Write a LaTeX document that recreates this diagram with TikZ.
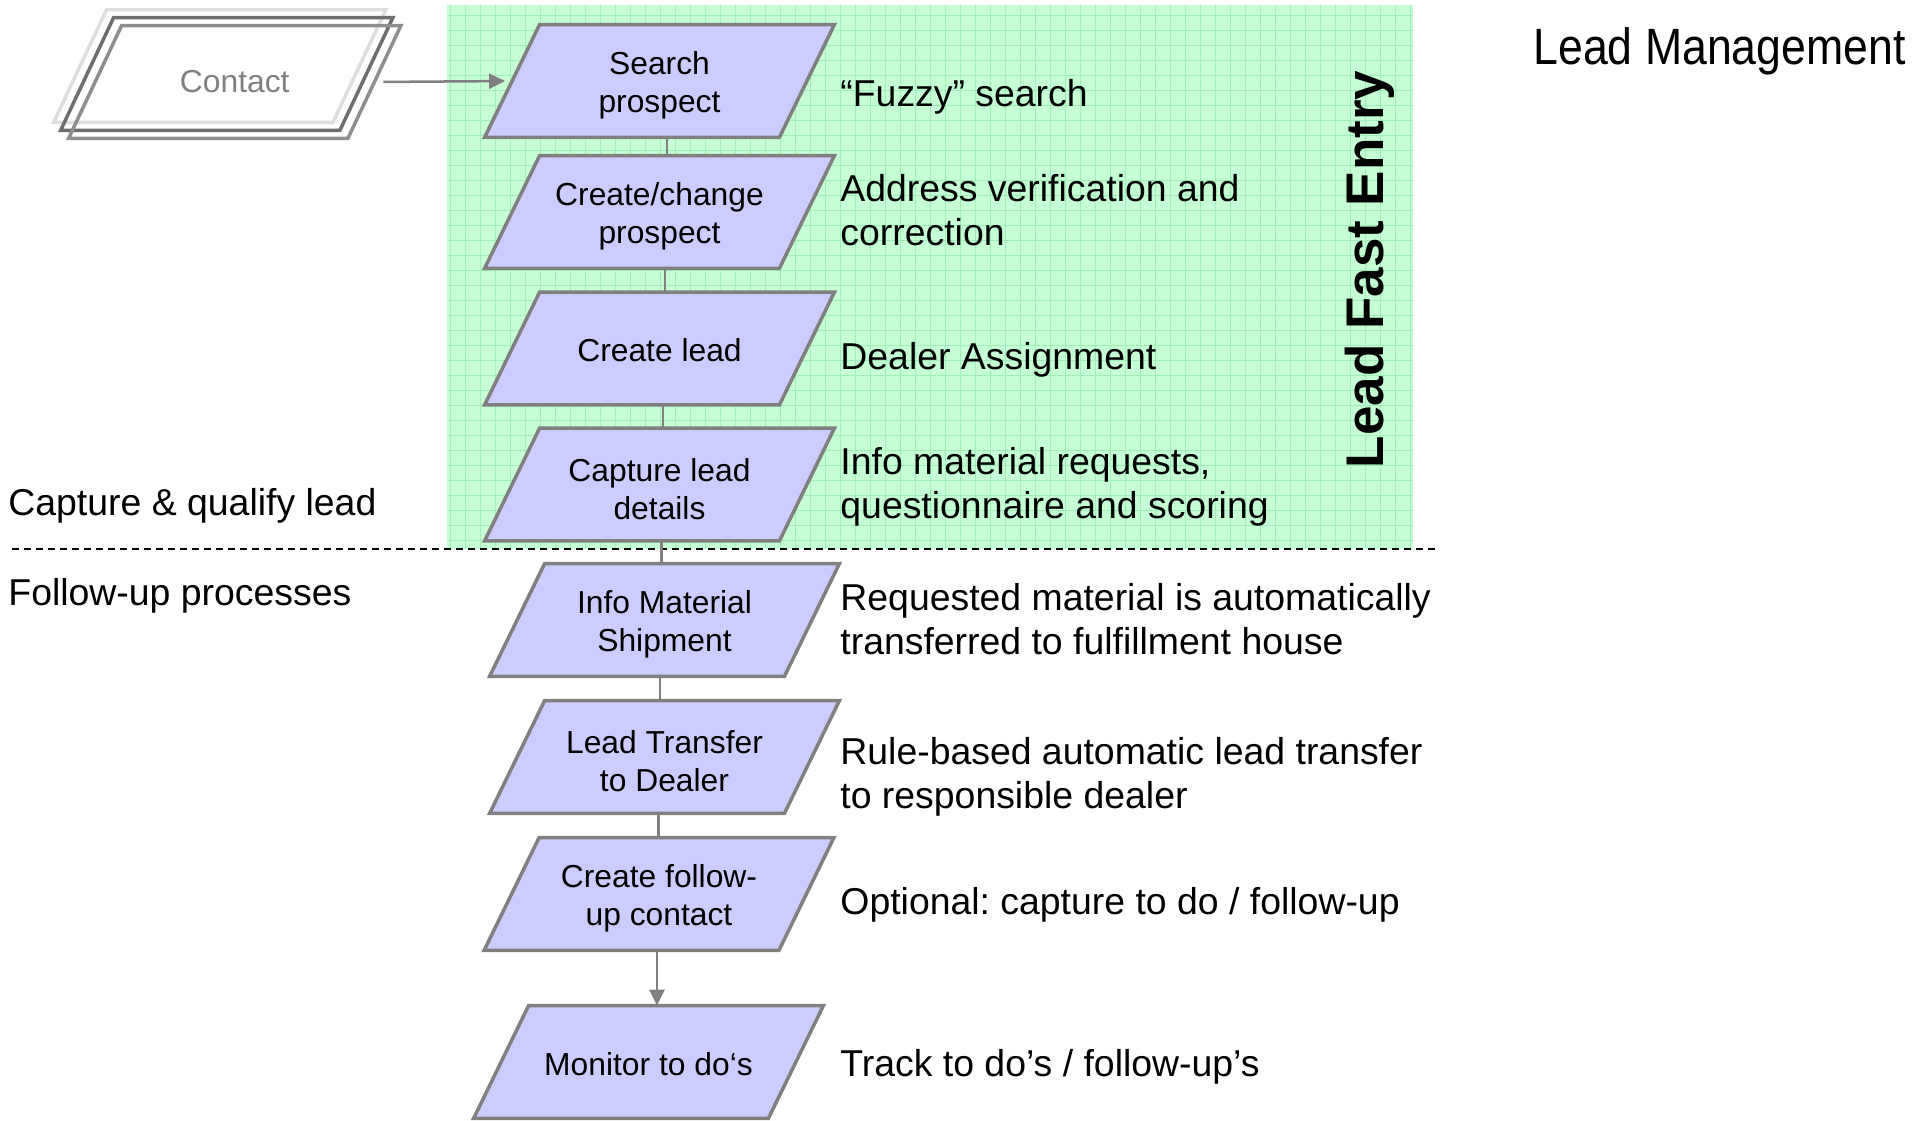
\documentclass[tikz,border=0pt]{standalone}
\usepackage{fontspec}
\usepackage{graphicx}
\setmainfont{Liberation Sans}
\usetikzlibrary{arrows.meta}
\pgfdeclarelayer{bg}
\pgfdeclarelayer{boxes}
\pgfsetlayers{bg,boxes,main}
\frenchspacing

\definecolor{mint}{RGB}{198,255,214}
\definecolor{mintline}{RGB}{158,240,184}
\definecolor{boxfill}{RGB}{204,204,255}
\definecolor{edge}{RGB}{128,128,128}
\definecolor{ghost}{RGB}{222,222,222}
\definecolor{darkedge}{RGB}{110,110,110}
\definecolor{frontedge}{RGB}{142,142,142}

\tikzset{
  stepbox/.style={minimum width=147pt, minimum height=56pt, inner sep=0pt},
  steptext/.style={inner sep=0pt, align=center,
    font=\fontsize{15.9}{19}\selectfont},
  contactbox/.style={minimum width=139.25pt, minimum height=56pt, inner sep=0pt,
    text=edge, font=\fontsize{15.9}{19}\selectfont},
  desc/.style={anchor=base west, inner sep=0pt, align=left,
    font=\fontsize{18.7}{21.75}\selectfont},
  link/.style={draw=edge, line width=1.3pt},
  arrowlink/.style={draw=edge, line width=1.25pt, -{Triangle[length=8pt,width=7.5pt]}},
  slantline/.style={line width=1.75pt, line join=miter},
}

% parallelogram around a rectangular node:
% #1 node, #2 half slant, #3 style, #4 offset
\newcommand\slantframe[4]{%
  \path[#3] ([shift={#4}, xshift=#2]#1.north west) -- ([shift={#4}, xshift=#2]#1.north east)
    -- ([shift={#4}, xshift=-#2]#1.south east) -- ([shift={#4}, xshift=-#2]#1.south west) -- cycle;}

% vertical connector below node #3, shifted sideways by #2, down to node #4
\newcommand\stemlink[4][link]{%
  \draw[#1] ([xshift=#2]#3.south) -- ([xshift=#2]#3.south |- #4.north);}

\begin{document}
\begin{tikzpicture}[x=0.5pt, y=-0.5pt]
\useasboundingbox (0,0) rectangle (1926,1120);

% grid panel
\begin{pgfonlayer}{bg}
  \fill[mint] (447,5) rectangle (1413,549);
  \draw[mintline, line width=0.5pt, step=7.5pt] (447,5) grid (1413,549);
\end{pgfonlayer}

% separator between the two phases
\coordinate (sepL) at (12,549);
\coordinate (sepR) at (1437,549);
\draw[black, line width=1pt, dash pattern=on 3.5pt off 2.5pt] (sepL) -- (sepR);

% process steps (frames)
\node[stepbox] (search)   at (659.5,81)    {};
\node[stepbox] (change)   at (659.5,212)   {};
\node[stepbox] (lead)     at (659.5,348.5) {};
\node[stepbox] (details)  at (659.5,484.5) {};
\node[stepbox] (ship)     at (664.5,620)   {};
\node[stepbox] (transfer) at (664.5,757)   {};
\node[stepbox] (followup) at (659,894)     {};
\node[stepbox] (monitor)  at (648.5,1062)  {};

% process steps (texts)
\node[steptext] (searchT)   at ([yshift=-2.25pt]search)   {Search\\prospect};
\node[steptext] (changeT)   at ([yshift=-2.25pt]change)   {Create/change\\prospect};
\node[steptext] (leadT)     at ([yshift=-1pt]lead)        {Create lead};
\node[steptext] (detailsT)  at ([yshift=-2.25pt]details)  {Capture lead\\details};
\node[steptext] (shipT)     at ([yshift=-2.25pt]ship)     {Info Material\\Shipment};
\node[steptext] (transferT) at ([yshift=-2.25pt]transfer) {Lead Transfer\\to Dealer};
\node[steptext] (followupT) at ([yshift=-2.25pt]followup) {Create follow-\\up contact};
\node[steptext] (monitorT)  at ([yshift=-1pt]monitor)     {Monitor to do‘s};

% contact stack
\node[contactbox] (contact) at (234.75,82) {Contact};

\begin{pgfonlayer}{boxes}
  \foreach \n in {search,change,lead,details,ship,transfer,followup,monitor}
    {\slantframe{\n}{13.75pt}{fill=boxfill, draw=edge, slantline}{(0,0)}}
  \slantframe{contact}{13.25pt}{draw=ghost, slantline}{(-15,-16)}
  \slantframe{contact}{13.25pt}{draw=darkedge, slantline}{(-8,-8)}
  \slantframe{contact}{13.25pt}{draw=frontedge, slantline}{(0,0)}
\end{pgfonlayer}

% connectors
\draw[arrowlink, shorten <=4.5pt, shorten >=3.5pt] (contact.east) -- (search.west);
\stemlink{3.75pt}{search}{change}
\stemlink{2.75pt}{change}{lead}
\stemlink{1.75pt}{lead}{details}
\stemlink{1.1pt}{details}{ship}
\stemlink{-2.25pt}{ship}{transfer}
\stemlink{-3pt}{transfer}{followup}
\stemlink[arrowlink]{-1pt}{followup}{monitor}

% descriptions
\node[desc] (d1) at (840,106.7) {“Fuzzy” search};
\node[desc] (d2) at (840,245)   {Address verification and\\correction};
\node[desc] (d3) at (840,369)   {Dealer Assignment};
\node[desc] (d4) at (840,518.3) {Info material requests,\\questionnaire and scoring};
\node[desc] (d5) at (840,654)   {Requested material is automatically\\transferred to fulfillment house};
\node[desc] (d6) at (840,808)   {Rule-based automatic lead transfer\\to responsible dealer};
\node[desc] (d7) at (840,914.5) {Optional: capture to do / follow-up};
\node[desc] (d8) at (840,1076)  {Track to do’s / follow-up’s};

% phase labels
\node[desc] (capture) at (8,515) {Capture \& qualify lead};
\node[desc] (follow)  at (8,605) {Follow-up processes};

% panel label and title
\node[rotate=90, anchor=base west, inner sep=0pt,
      font=\bfseries\fontsize{26.5}{30}\selectfont] (fast) at (1383,468.5) {Lead Fast Entry};
\node[anchor=base west, inner sep=0pt, font=\fontsize{25.5}{30}\selectfont] (title)
  at (1533,64) {\scalebox{0.875}[1]{Lead Management}};
\end{tikzpicture}
\end{document}
